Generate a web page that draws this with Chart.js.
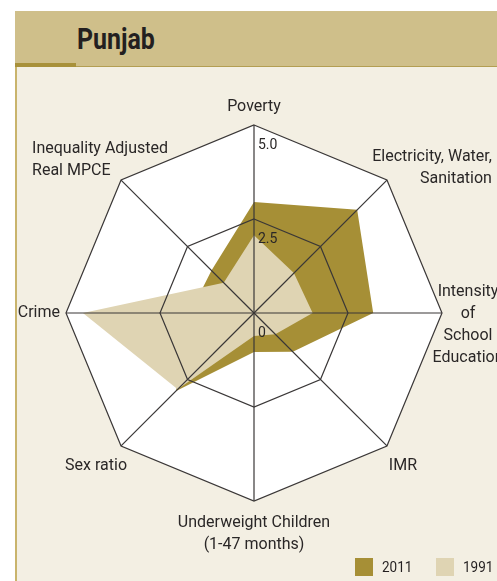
<!DOCTYPE html>
<html>
<head>
<meta charset="utf-8">
<script src="https://cdn.jsdelivr.net/npm/chart.js@4/dist/chart.umd.min.js"></script>
<style>
  html, body { margin: 0; padding: 0; background: #fff; }
  body { width: 497px; height: 581px; position: relative; overflow: hidden; font-family: Roboto, sans-serif; }
  .panel { position: absolute; left: 15px; top: 67px; right: 0; bottom: 0; background: #F3EFE3; border-left: 2px solid #C9B46C; }
  .band { position: absolute; left: 15px; top: 11px; right: 0; height: 56px; background: #CFBF8A; border-bottom: 1px solid #B39E52; box-sizing: border-box; }
  .tab { position: absolute; left: 15px; top: 63px; width: 61px; height: 4px; background: #A8913A; }
  .title { position: absolute; left: 77px; top: 22px; font: bold 29px Roboto, sans-serif; color: #231F20; transform: scaleX(0.86); transform-origin: left center; }
  #chart { position: absolute; left: 0; top: 0; }
  .legend { position: absolute; top: 558px; font-size: 15px; color: #231F20; }
  .legend span.sw { position: absolute; top: 0; width: 18px; height: 18px; }
  .legend span.tx { position: absolute; top: 0; line-height: 18px; transform: scaleX(0.9); transform-origin: left center; }
</style>
</head>
<body>
<div class="panel"></div>
<div class="band"></div>
<div class="tab"></div>
<div class="title">Punjab</div>
<div style="position:absolute;left:0;top:0;width:497px;height:581px;">
  <canvas id="chart" width="497" height="581"></canvas>
</div>
<div class="legend" id="legend"></div>
<script>
const AXES = [
  ['Poverty'],
  ['Electricity, Water,', 'Sanitation'],
  ['Intensity', 'of', 'School', 'Education'],
  ['IMR'],
  ['Underweight Children', '(1-47 months)'],
  ['Sex ratio'],
  ['Crime'],
  ['Inequality Adjusted', 'Real MPCE']
];
const YEARS      = ['2011', '1991'];
const VALS_2011  = [2.95, 3.88, 3.17, 1.46, 1.04, 2.93, 1.7, 1.6];
const VALS_1991  = [2.07, 1.5, 1.56, 0.8, 0.61, 2.87, 4.55, 1.14];
const TICK_VALS  = [0, 2.5, 5];
const TICK_TEXT  = ['0', '2.5', '5.0'];

const COL_2011 = '#A68F36';
const COL_1991 = '#DFD4B3';
const INK = '#2A2727';

// where each axis name sits relative to its outer vertex
const LABEL_POS = [
  { align: 'center', dx: 0,    dy: -18 },
  { align: 'right',  dx: 105,  dy: -23 },
  { align: 'center', dx: 26,   dy: -21 },
  { align: 'center', dx: 16,   dy: 20 },
  { align: 'center', dx: 0,    dy: 22 },
  { align: 'center', dx: -25,  dy: 20 },
  { align: 'right',  dx: -6,   dy: 0 },
  { align: 'left',   dx: -89,  dy: -31 }
];
const LINE_H = 22;

const plotBg = {
  id: 'plotBg',
  beforeDraw(chart) {
    const r = chart.scales.r, ctx = chart.ctx;
    ctx.save();
    ctx.beginPath();
    AXES.forEach((_, i) => {
      const p = r.getPointPosition(i, r.drawingArea);
      i ? ctx.lineTo(p.x, p.y) : ctx.moveTo(p.x, p.y);
    });
    ctx.closePath();
    ctx.fillStyle = '#fff';
    ctx.fill();
    ctx.restore();
  }
};

const axisText = {
  id: 'axisText',
  afterDraw(chart) {
    const r = chart.scales.r, ctx = chart.ctx;
    ctx.save();
    ctx.fillStyle = INK;
    ctx.textBaseline = 'middle';
    ctx.font = '16px Roboto, sans-serif';
    AXES.forEach((lines, i) => {
      const p = r.getPointPosition(i, r.drawingArea);
      const o = LABEL_POS[i];
      ctx.textAlign = o.align;
      lines.forEach((t, k) => ctx.fillText(t, p.x + o.dx, p.y + o.dy + k * LINE_H));
    });
    // tick values, set just below their ring on the vertical axis
    ctx.font = '14px Roboto, sans-serif';
    ctx.textAlign = 'left';
    TICK_VALS.forEach((v, k) => {
      const d = r.getDistanceFromCenterForValue(v);
      ctx.fillText(TICK_TEXT[k], r.xCenter + 4, r.yCenter - d + 20);
    });
    ctx.restore();
  }
};

new Chart(document.getElementById('chart'), {
  type: 'radar',
  data: {
    labels: AXES,
    datasets: [
      { label: YEARS[0], data: VALS_2011, backgroundColor: COL_2011, borderWidth: 0, pointRadius: 0, fill: true, order: 2 },
      { label: YEARS[1], data: VALS_1991, backgroundColor: COL_1991, borderWidth: 0, pointRadius: 0, fill: true, order: 1 }
    ]
  },
  options: {
    responsive: false,
    animation: false,
    layout: { padding: { left: 66, top: 125, right: 55, bottom: 80 } },
    plugins: { legend: { display: false }, tooltip: { enabled: false } },
    elements: { line: { tension: 0 } },
    scales: {
      r: {
        min: 0,
        max: 5,
        ticks: { display: false, stepSize: 2.5 },
        pointLabels: { display: false },
        grid: { color: '#3A3737', lineWidth: 1.2, z: 1 },
        angleLines: { color: '#3A3737', lineWidth: 1.2 }
      }
    }
  },
  plugins: [plotBg, axisText]
});

// legend
const legend = document.getElementById('legend');
const legX = [355, 436];
[COL_2011, COL_1991].forEach((c, i) => {
  legend.insertAdjacentHTML('beforeend',
    `<span class="sw" style="left:${legX[i]}px;background:${c}"></span>` +
    `<span class="tx" style="left:${legX[i] + 27}px">${YEARS[i]}</span>`);
});
</script>
</body>
</html>
